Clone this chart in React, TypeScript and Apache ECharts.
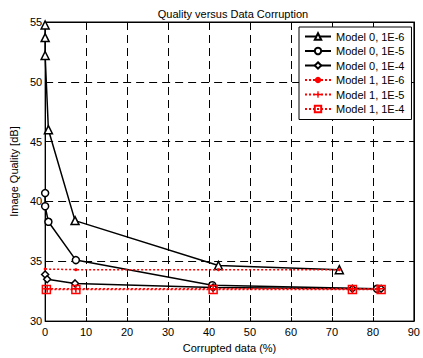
import React, { useEffect, useRef } from "react";
import * as echarts from "echarts";

const xTicks = [0, 10, 20, 30, 40, 50, 60, 70, 80, 90];
const yTicks = [30, 35, 40, 45, 50, 55];

const m0e6X = [0, 0, 0, 0.8, 7.3, 42.3, 71.8];
const m0e6Y = [54.75, 53.7, 52.2, 46.0, 38.4, 34.65, 34.3];
const m0e5X = [0, 0, 0.8, 7.5, 40.8, 81];
const m0e5Y = [40.7, 39.6, 38.3, 35.1, 33.0, 32.7];
const m0e4X = [0, 0.5, 7.3, 41, 75, 82];
const m0e4Y = [33.9, 33.5, 33.15, 32.8, 32.7, 32.7];
const m1e6X = [0, 7.5, 42.3, 71.8];
const m1e6Y = [34.35, 34.3, 34.3, 34.3];
const m1e5X = [0.5, 7.5, 41, 75, 81.5];
const m1e5Y = [32.7, 32.7, 32.7, 32.7, 32.7];
const m1e4X = [0.3, 7.5, 41, 75, 82];
const m1e4Y = [32.65, 32.65, 32.65, 32.65, 32.65];

const names = [
  "Model 0, 1E-6",
  "Model 0, 1E-5",
  "Model 0, 1E-4",
  "Model 1, 1E-6",
  "Model 1, 1E-5",
  "Model 1, 1E-4",
];

const zip = (xs: number[], ys: number[]) => xs.map((x, i) => [x, ys[i]]);

const PLUS = "path://M4,0 L6,0 L6,4 L10,4 L10,6 L6,6 L6,10 L4,10 L4,6 L0,6 L0,4 L4,4 Z";

export default function App() {
  const ref = useRef<HTMLDivElement>(null);
  useEffect(() => {
    if (!ref.current) return;
    const chart = echarts.init(ref.current, undefined, { renderer: "svg" });
    const font = "'Liberation Sans', Arial, sans-serif";
    const black = (name: string, xs: number[], ys: number[], symbol: string, size: number) => ({
      name,
      type: "line",
      data: zip(xs, ys),
      symbol,
      symbolSize: size,
      showAllSymbol: true,
      lineStyle: { color: "#000", width: 1.5, type: "solid" },
      itemStyle: { color: "#fff", borderColor: "#000", borderWidth: 1.5 },
      z: 3,
    });
    const red = (name: string, xs: number[], ys: number[], symbol: string, size: number, filled: boolean) => ({
      name,
      type: "line",
      data: zip(xs, ys),
      symbol,
      symbolSize: size,
      showAllSymbol: true,
      lineStyle: { color: "#ff0000", width: 1.5, type: [2, 2] },
      itemStyle: filled
        ? { color: "#ff0000", borderColor: "#ff0000", borderWidth: 0 }
        : { color: "rgba(255,255,255,0)", borderColor: "#ff0000", borderWidth: 1.5 },
      z: 4,
    });
    const dash = [8, 5];
    const edgeAxis = {
      type: "value",
      axisLine: { show: true, onZero: false, lineStyle: { color: "#000" } },
      axisTick: { show: true, inside: true, length: 4, lineStyle: { color: "#000" } },
      axisLabel: { show: false },
      splitLine: { show: false },
    };
    chart.setOption({
      animation: false,
      backgroundColor: "#fff",
      textStyle: { fontFamily: font },
      title: {
        text: "Quality versus Data Corruption",
        left: 228,
        textAlign: "center",
        top: 3,
        textStyle: { fontSize: 11, fontWeight: "normal", color: "#000", fontFamily: font },
      },
      grid: {
        left: 39,
        right: 5,
        top: 22,
        bottom: 36,
        show: true,
        borderColor: "#000",
        borderWidth: 1,
        backgroundColor: "#fff",
      },
      legend: {
        left: 299,
        top: 27,
        orient: "vertical",
        backgroundColor: "#fff",
        borderColor: "#000",
        borderWidth: 1,
        padding: [4, 7, 5, 5],
        itemWidth: 26,
        itemHeight: 8,
        itemGap: 3.5,
        data: names,
        textStyle: { fontSize: 11, color: "#000", fontFamily: font, padding: [0, 0, 0, 0] },
      },
      xAxis: [
        {
          type: "value",
          min: 0,
          max: 90,
          interval: 10,
          name: "Corrupted data (%)",
          nameLocation: "middle",
          nameGap: 18,
          nameTextStyle: { fontSize: 11, color: "#000", fontFamily: font },
          axisLine: { show: true, onZero: false, lineStyle: { color: "#000" } },
          axisTick: { show: true, inside: true, length: 4, lineStyle: { color: "#000" } },
          axisLabel: { fontSize: 11, color: "#000", margin: 5, fontFamily: font },
          splitLine: { show: true, lineStyle: { color: "#000", type: dash, width: 1 } },
        },
        { ...edgeAxis, position: "top", min: 0, max: 90, interval: 10 },
      ],
      yAxis: [
        {
          type: "value",
          min: 30,
          max: 55,
          interval: 5,
          name: "Image Quality [dB]",
          nameLocation: "middle",
          nameGap: 22,
          nameTextStyle: { fontSize: 11, color: "#000", fontFamily: font },
          axisLine: { show: true, lineStyle: { color: "#000" } },
          axisTick: { show: true, inside: true, length: 4, lineStyle: { color: "#000" } },
          axisLabel: { fontSize: 11, color: "#000", margin: 3, fontFamily: font },
          splitLine: { show: true, lineStyle: { color: "#000", type: dash, width: 1 } },
        },
        { ...edgeAxis, position: "right", min: 30, max: 55, interval: 5 },
      ],
      series: [
        black(names[0], m0e6X, m0e6Y, "triangle", 8),
        black(names[1], m0e5X, m0e5Y, "circle", 7),
        black(names[2], m0e4X, m0e4Y, "diamond", 7),
        red(names[3], m1e6X, m1e6Y, "circle", 3, true),
        red(names[4], m1e5X, m1e5Y, PLUS, 8, true),
        red(names[5], m1e4X, m1e4Y, "rect", 8, false),
      ],
    });
    return () => chart.dispose();
  }, []);
  void xTicks;
  void yTicks;
  return <div ref={ref} style={{ width: 423, height: 358, position: "absolute", left: 0, top: 0 }} />;
}
